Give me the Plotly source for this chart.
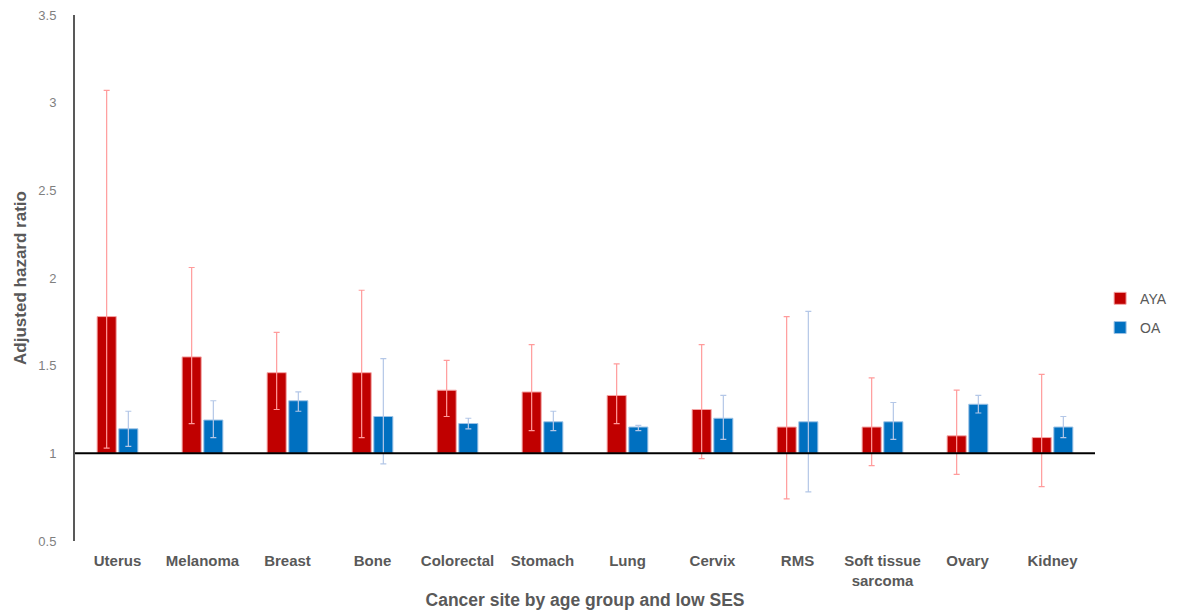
import plotly.graph_objects as go

categories = ["Uterus", "Melanoma", "Breast", "Bone", "Colorectal", "Stomach",
              "Lung", "Cervix", "RMS", "Soft tissue<br>sarcoma", "Ovary", "Kidney"]

aya_hr = [1.78, 1.55, 1.46, 1.46, 1.36, 1.35, 1.33, 1.25, 1.15, 1.15, 1.10, 1.09]
aya_lo = [1.03, 1.17, 1.25, 1.09, 1.21, 1.13, 1.17, 0.97, 0.74, 0.93, 0.88, 0.81]
aya_hi = [3.07, 2.06, 1.69, 1.93, 1.53, 1.62, 1.51, 1.62, 1.78, 1.43, 1.36, 1.45]

oa_hr = [1.14, 1.19, 1.30, 1.21, 1.17, 1.18, 1.15, 1.20, 1.18, 1.18, 1.28, 1.15]
oa_lo = [1.04, 1.09, 1.24, 0.94, 1.14, 1.13, 1.13, 1.08, 0.78, 1.08, 1.23, 1.09]
oa_hi = [1.24, 1.30, 1.35, 1.54, 1.20, 1.24, 1.16, 1.33, 1.81, 1.29, 1.33, 1.21]

BASE = 1.0

def rel(vals, base):
    return [v - base for v in vals]

fig = go.Figure()
fig.add_trace(go.Bar(
    name="AYA", x=categories, y=rel(aya_hr, BASE), base=BASE, legendgroup="aya",
    marker=dict(color="#C00000", line=dict(color="#F4A6A6", width=1)),
    error_y=dict(type="data", symmetric=False,
                 array=[h - v for h, v in zip(aya_hi, aya_hr)],
                 arrayminus=[v - l for v, l in zip(aya_hr, aya_lo)],
                 color="#FF9B9B", thickness=1.2, width=3),
))
fig.add_trace(go.Bar(
    name="OA", x=categories, y=rel(oa_hr, BASE), base=BASE, legendgroup="oa",
    marker=dict(color="#0070C0", line=dict(color="#9DC3E6", width=1)),
    error_y=dict(type="data", symmetric=False,
                 array=[h - v for h, v in zip(oa_hi, oa_hr)],
                 arrayminus=[v - l for v, l in zip(oa_hr, oa_lo)],
                 color="#B4C7E7", thickness=1.2, width=3),
))

fig.add_shape(type="line", xref="paper", yref="y", x0=0, x1=1, y0=1, y1=1,
              line=dict(color="black", width=2), layer="above")

fig.update_layout(
    width=1169, height=606,
    margin=dict(l=67, r=82, t=7, b=73, autoexpand=False),
    paper_bgcolor="white", plot_bgcolor="white",
    font=dict(family="Liberation Sans, Arial, sans-serif", color="#595959"),
    barmode="group", bargap=0.49, bargroupgap=0.12,
    showlegend=True,
    legend=dict(x=1.005, y=0.433, yanchor="middle", xanchor="left",
                font=dict(size=14, color="#595959"), itemwidth=30,
                traceorder="grouped", tracegroupgap=8),
    xaxis=dict(showline=False, showgrid=False, ticks="", automargin=False,
               ticklabelstandoff=9,
               tickfont=dict(size=15, color="#595959"),
               title=dict(text="<b>Cancer site by age group and low SES</b>",
                          font=dict(size=17.5, color="#595959"), standoff=6)),
    yaxis=dict(range=[0.5, 3.5], tickvals=[0.5, 1, 1.5, 2, 2.5, 3, 3.5],
               ticktext=["0.5", "1", "1.5", "2", "2.5", "3", "3.5"],
               showgrid=False, zeroline=False, showline=True, automargin=False,
               linecolor="#595959", linewidth=2, ticks="",
               ticklabelstandoff=14, ticklabeloverflow="allow",
               tickfont=dict(size=13, color="#7F7F7F"),
               title=dict(text="<b>Adjusted hazard ratio</b>",
                          font=dict(size=17, color="#595959"), standoff=7)),
)
fig.update_xaxes(tickprefix="<b>", ticksuffix="</b>")

fig.write_html("out.html")
